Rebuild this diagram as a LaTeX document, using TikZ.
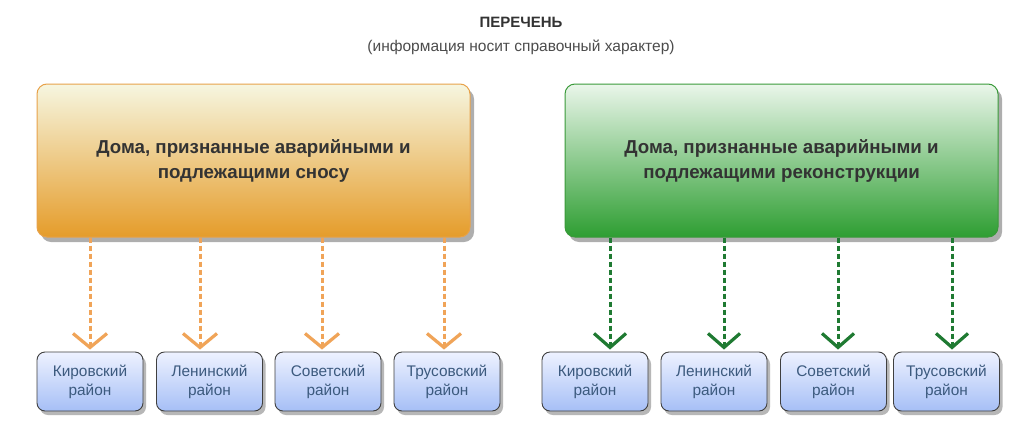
\documentclass[tikz,border=0pt]{standalone}
\usepackage{fontspec}
\setmainfont{Liberation Sans}
\usetikzlibrary{shadows,arrows.meta}
\definecolor{orangeTop}{HTML}{F6F6E0}
\definecolor{orangeBot}{HTML}{E59C2A}
\definecolor{orangeLine}{HTML}{E8A24A}
\definecolor{arrOrange}{HTML}{F0A458}
\definecolor{greenTop}{HTML}{EAF6EA}
\definecolor{greenBot}{HTML}{2E9E32}
\definecolor{greenLine}{HTML}{3A9A3A}
\definecolor{arrGreen}{HTML}{1F7A32}
\definecolor{blueTop}{HTML}{EEF2FF}
\definecolor{blueBot}{HTML}{A6BFF6}
\definecolor{blueText}{HTML}{3C5A7E}
\definecolor{titleGray}{HTML}{333333}
\begin{document}
\begin{tikzpicture}[x=1pt,y=-1pt,
  bigbox/.style={rounded corners=10pt, minimum width=433pt, minimum height=153pt,
    align=center, font=\fontsize{18.7}{25}\selectfont\bfseries, text=titleGray,
    drop shadow={shadow xshift=4pt, shadow yshift=-5pt, opacity=0.45, fill=black!70}},
  orbox/.style={bigbox, draw=orangeLine, line width=1pt, top color=orangeTop, bottom color=orangeBot},
  grbox/.style={bigbox, draw=greenLine, line width=1pt, top color=greenTop, bottom color=greenBot},
  distbox/.style={rounded corners=8pt, minimum width=106pt, minimum height=59pt,
    align=center, draw=black!75, line width=0.9pt, top color=blueTop, bottom color=blueBot,
    text=blueText, font=\fontsize{15.4}{19}\selectfont,
    drop shadow={shadow xshift=3pt, shadow yshift=-4pt, opacity=0.4, fill=black!70}},
  orarrow/.style={arrOrange, line width=3pt, dash pattern=on 5pt off 3pt,
    -{Straight Barb[length=14pt, width=34pt, line width=3.2pt]}},
  grarrow/.style={arrGreen, line width=3pt, dash pattern=on 5pt off 3pt,
    -{Straight Barb[length=14pt, width=32pt, line width=3.2pt]}},
]
\useasboundingbox (0,0) rectangle (1024,442);
\fill[white] (0,0) rectangle (1024,442);

\node[font=\fontsize{15}{17}\selectfont\bfseries, text=titleGray] (title) at (521,22) {ПЕРЕЧЕНЬ};
\node[font=\fontsize{15.5}{17}\selectfont, text=black!70] (sub) at (521,47) {(информация носит справочный характер)};

\node[orbox] (bigL) at (253.5,160.5) {Дома, признанные аварийными и\\подлежащими сносу};
\node[grbox] (bigR) at (781.5,160.5) {Дома, признанные аварийными и\\подлежащими реконструкции};

\node[distbox] (l1) at (90,381.5) {Кировский\\район};
\node[distbox] (l2) at (209.5,381.5) {Ленинский\\район};
\node[distbox] (l3) at (328,381.5) {Советский\\район};
\node[distbox] (l4) at (447,381.5) {Трусовский\\район};

\node[distbox] (r1) at (595,381.5) {Кировский\\район};
\node[distbox] (r2) at (714,381.5) {Ленинский\\район};
\node[distbox] (r3) at (833.5,381.5) {Советский\\район};
\node[distbox] (r4) at (946.5,381.5) {Трусовский\\район};

\foreach \n/\x in {l1/90, l2/200, l3/322, l4/444}
  \draw[orarrow] (bigL.south -| \x,0) -- ([yshift=2pt]\n.north -| \x,0);
\foreach \n/\x in {r1/610, r2/724, r3/838, r4/952}
  \draw[grarrow] (bigR.south -| \x,0) -- ([yshift=2pt]\n.north -| \x,0);
\end{tikzpicture}
\end{document}
